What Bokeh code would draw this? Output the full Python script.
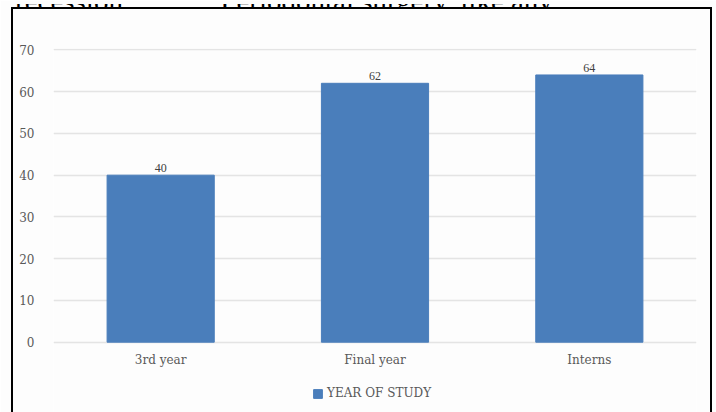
from bokeh.plotting import figure
from bokeh.models import (ColumnDataSource, Range1d, FixedTicker, LabelSet, Legend,
                          LegendItem, Div, InlineStyleSheet)
from bokeh.embed import file_html
from bokeh.resources import INLINE

categories = ["3rd year", "Final year", "Interns"]
values = [40, 62, 64]
value_labels = ["40", "62", "64"]
series_name = "YEAR OF STUDY"
y_ticks = [0, 10, 20, 30, 40, 50, 60, 70]
page_text_left = "recession"
page_text_right = ".Periodontal surgery, like any"

FONT = "DejaVu Serif"
BAR = "#4a7ebb"

src = ColumnDataSource(dict(cat=categories, val=values, lab=value_labels))

border_css = InlineStyleSheet(css="""
:host::after {
  content: "";
  position: absolute;
  left: 11px;
  top: 6.5px;
  width: 701px;
  height: 440px;
  border: 2.5px solid #000;
  box-sizing: border-box;
  pointer-events: none;
  z-index: 100;
}
""")

p = figure(width=716, height=412, x_range=categories, y_range=Range1d(-16.835, 70.335),
           x_axis_location="above",
           output_backend="svg", toolbar_location=None,
           min_border_left=53, min_border_right=20, min_border_top=48, min_border_bottom=0,
           stylesheets=[border_css])
p.background_fill_color = "#fdfdfd"
p.border_fill_color = "#fdfdfd"
p.outline_line_color = None

r = p.vbar(x="cat", top="val", width=0.5, source=src, fill_color=BAR, line_color=BAR)

p.xgrid.grid_line_color = None
p.ygrid.grid_line_color = "#e4e4e4"
p.ygrid.grid_line_width = 1.5
p.yaxis.ticker = FixedTicker(ticks=y_ticks)

for ax in (p.xaxis[0], p.yaxis[0]):
    ax.axis_line_color = None
    ax.major_tick_line_color = None
    ax.minor_tick_line_color = None
    ax.major_tick_in = 0
    ax.major_tick_out = 0
    ax.major_label_text_font = FONT
    ax.major_label_text_font_size = "12px"
    ax.major_label_text_color = "#595959"
p.yaxis.major_label_standoff = 19
# category axis drawn along the zero line, labels placed beneath it
p.xaxis.fixed_location = 0
p.xaxis.major_label_standoff = -25

labels = LabelSet(x="cat", y="val", text="lab", source=src, y_offset=3,
                  text_align="center", text_baseline="bottom",
                  text_font=FONT, text_font_size="12px", text_color="#404040")
p.add_layout(labels)

legend = Legend(items=[LegendItem(label=series_name, renderers=[r])],
                location=(259, 12), orientation="horizontal",
                padding=0, margin=0, spacing=0,
                glyph_width=11, glyph_height=11, label_height=11, label_standoff=4,
                label_text_font=FONT, label_text_font_size="12px",
                label_text_color="#595959",
                border_line_color=None, background_fill_alpha=0)
p.add_layout(legend, "center")

span_style = ("position:absolute;top:-19px;font-family:'Liberation Serif','Times New Roman',serif;"
              "font-size:29px;line-height:33px;white-space:pre;color:#000;")
page_html = (
    '<div style="position:relative;width:716px;height:8px;overflow:hidden;">'
    '<span style="left:15px;' + span_style + '">' + page_text_left + '</span>'
    '<span style="left:213px;' + span_style + '">' + page_text_right + '</span>'
    '</div>'
)
page_div = Div(text=page_html, width=716, height=8, margin=0,
               styles={"position": "absolute", "left": "0px", "top": "0px",
                       "overflow": "hidden", "z-index": "50",
                       "font-family": "'Liberation Serif', serif"})

open("out.html", "w").write(file_html([p, page_div], INLINE))
